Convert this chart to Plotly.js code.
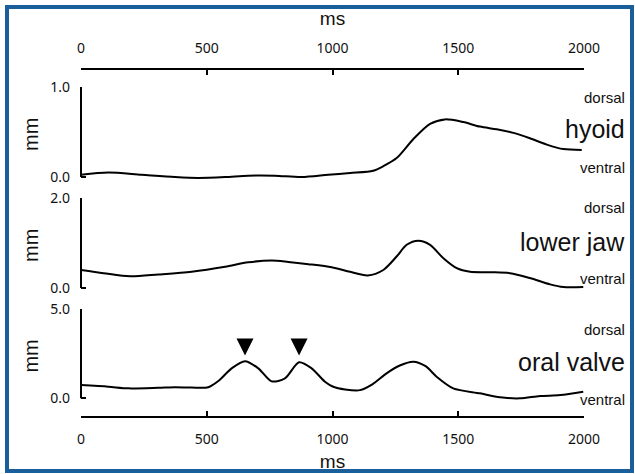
<!DOCTYPE html>
<html><head><meta charset="utf-8">
<script src="https://cdn.plot.ly/plotly-3.0.1.min.js"></script>
<style>
html,body{margin:0;padding:0;background:#fff;}
#wrap{position:relative;width:635px;height:474px;overflow:hidden;}
#chart{width:635px;height:474px;}
#frame{position:absolute;left:5px;top:5px;right:1px;bottom:1px;border:4px solid #1a5e9c;pointer-events:none;}
</style>
</head><body>
<div id="wrap"><div id="chart"></div><div id="frame"></div></div>
<script>
// ---- data ----
const xTicks = [0, 500, 1000, 1500, 2000];

const hyoidMs = [0, 109, 241, 374, 466, 573, 665, 771, 877, 983, 1070, 1162, 1202, 1255, 1321, 1388, 1447, 1520, 1586, 1653, 1719, 1785, 1852, 1918, 1991];
const hyoidMm = [0.025, 0.05, 0.025, 0.0, -0.01, 0.0, 0.015, 0.015, 0.0, 0.025, 0.045, 0.07, 0.12, 0.21, 0.42, 0.59, 0.64, 0.61, 0.56, 0.53, 0.49, 0.43, 0.36, 0.31, 0.30];
const hyoidTicks = [0, 1];

const jawMs = [0, 90, 195, 307, 440, 573, 665, 758, 824, 904, 997, 1070, 1140, 1202, 1255, 1295, 1341, 1388, 1441, 1494, 1547, 1626, 1706, 1785, 1865, 1918, 1997];
const jawMm = [0.40, 0.33, 0.26, 0.30, 0.36, 0.47, 0.57, 0.61, 0.58, 0.53, 0.46, 0.36, 0.28, 0.40, 0.70, 0.96, 1.05, 0.96, 0.66, 0.44, 0.36, 0.35, 0.33, 0.22, 0.08, 0.02, 0.02];
const jawTicks = [0, 2];

const valveMs = [0, 109, 188, 307, 374, 440, 506, 546, 599, 652, 705, 758, 811, 867, 917, 970, 1003, 1050, 1109, 1160, 1215, 1270, 1321, 1370, 1414, 1480, 1586, 1666, 1745, 1825, 1905, 1997];
const valveMm = [0.74, 0.65, 0.56, 0.59, 0.62, 0.60, 0.62, 0.97, 1.68, 2.08, 1.68, 0.95, 1.12, 2.02, 1.68, 0.93, 0.65, 0.50, 0.46, 0.80, 1.40, 1.85, 2.05, 1.80, 1.21, 0.56, 0.28, 0.06, 0.0, 0.13, 0.18, 0.37];
const valveTicks = [0, 5];

const arrowMs = [652, 867];
const arrowMm = [2.4, 2.4];

const panelNames = ['hyoid', 'lower jaw', 'oral valve'];
const sideUpper = 'dorsal';
const sideLower = 'ventral';
const xTitle = 'ms';
const yTitle = 'mm';

// ---- styling ----
const F = 'Liberation Sans, Arial, sans-serif';
const TF = 'Noto Sans, DejaVu Sans, sans-serif';
const black = '#000';
const lineStyle = {color: black, width: 2, shape: 'spline', smoothing: 0.8};

const traces = [
  {x: hyoidMs, y: hyoidMm, xaxis: 'x', yaxis: 'y', mode: 'lines', line: lineStyle, hoverinfo: 'skip'},
  {x: jawMs, y: jawMm, xaxis: 'x', yaxis: 'y2', mode: 'lines', line: lineStyle, hoverinfo: 'skip'},
  {x: valveMs, y: valveMm, xaxis: 'x', yaxis: 'y3', mode: 'lines', line: lineStyle, hoverinfo: 'skip'},
  {x: arrowMs, y: arrowMm, xaxis: 'x', yaxis: 'y3', mode: 'markers', marker: {symbol: 'arrow-down', size: 17, color: black, line: {width: 0}}, hoverinfo: 'skip'},
  {x: [], y: [], xaxis: 'x2', yaxis: 'y', mode: 'lines', hoverinfo: 'skip'}
];

const xCommon = {
  range: [0, 2000], tickvals: xTicks, ticktext: xTicks.map(String),
  ticks: 'inside', ticklen: 5, tickwidth: 2, tickcolor: black,
  showline: true, linewidth: 2, linecolor: black,
  showgrid: false, zeroline: false, fixedrange: true,
  tickfont: {family: TF, size: 14, color: '#111'},
  ticklabelstandoff: 9
};

function yAxis(domain, ticks, padFrac) {
  const span = ticks[1] - ticks[0];
  return {
    domain: domain, range: [ticks[0] - span * padFrac, ticks[1]], anchor: 'x',
    tickvals: ticks, ticktext: ticks.map(v => v.toFixed(1)),
    ticks: 'inside', ticklen: 5, tickwidth: 2, tickcolor: black,
    showline: false, showgrid: false, zeroline: false, fixedrange: true,
    tickfont: {family: TF, size: 14, color: '#111'},
    ticklabelstandoff: 10,
    title: {text: yTitle, font: {family: F, size: 20, color: '#111'}, standoff: 6}
  };
}

function axisLine(yref, ticks) {
  return {type: 'line', xref: 'paper', yref: yref, x0: 0, x1: 0, y0: ticks[0], y1: ticks[1], line: {color: black, width: 2}};
}

function label(yref, y, text, size) {
  return {xref: 'paper', yref: yref, x: 1.0855, y: y, xanchor: 'right', yanchor: 'middle', text: text, showarrow: false, font: {family: F, size: size, color: '#111'}};
}

const layout = {
  width: 635, height: 474,
  margin: {l: 81, r: 51, t: 69, b: 57},
  paper_bgcolor: '#fff', plot_bgcolor: 'rgba(0,0,0,0)',
  showlegend: false,
  xaxis: Object.assign({}, xCommon, {anchor: 'free', position: 0, side: 'bottom', title: {text: xTitle, font: {family: F, size: 19, color: '#111'}, standoff: 7}}),
  xaxis2: Object.assign({}, xCommon, {overlaying: 'x', anchor: 'free', position: 1, side: 'top', title: {text: xTitle, font: {family: F, size: 19, color: '#111'}, standoff: 7}}),
  yaxis: yAxis([0.6767, 0.9483], hyoidTicks, 0.05),
  yaxis2: yAxis([0.3578, 0.6293], jawTicks, 0.05),
  yaxis3: yAxis([0.0408, 0.3103], valveTicks, 0.05),
  shapes: [axisLine('y', hyoidTicks), axisLine('y2', jawTicks), axisLine('y3', valveTicks)],
  annotations: [
    label('y', 0.878, sideUpper, 15), label('y', 0.537, panelNames[0], 25), label('y', 0.103, sideLower, 15),
    label('y2', 1.78, sideUpper, 15), label('y2', 1.03, panelNames[1], 25), label('y2', 0.2, sideLower, 15),
    label('y3', 3.88, sideUpper, 15), label('y3', 2.05, panelNames[2], 25), label('y3', -0.04, sideLower, 15)
  ]
};

Plotly.newPlot('chart', traces, layout, {staticPlot: true, displayModeBar: false});
</script>
</body></html>
